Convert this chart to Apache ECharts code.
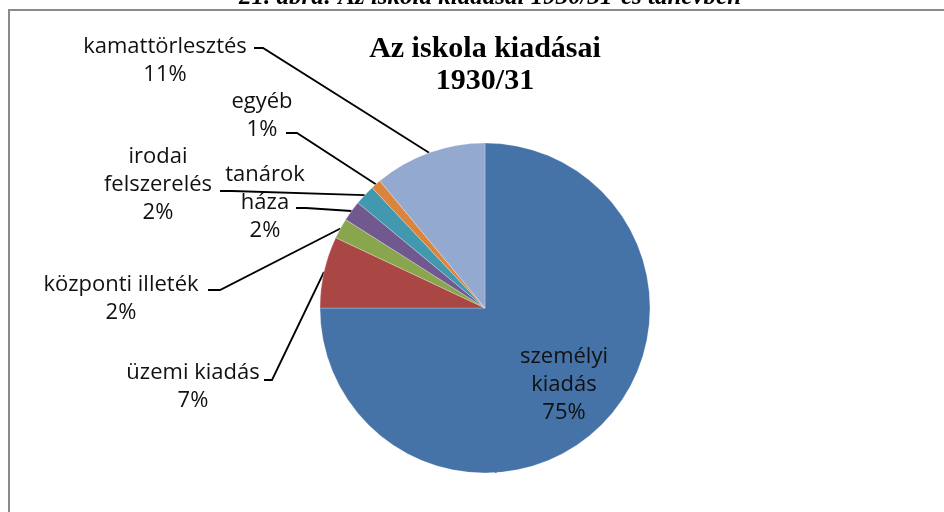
<!DOCTYPE html>
<html>
<head>
<meta charset="utf-8">
<script src="https://cdn.jsdelivr.net/npm/echarts@6/dist/echarts.min.js"></script>
<style>
  html, body { margin: 0; padding: 0; background: #fff; }
  #chart { width: 944px; height: 512px; }
</style>
</head>
<body>
<div id="chart"></div>
<script>
// adatok a képről
const categories = ['személyi\nkiadás', 'üzemi kiadás', 'központi illeték', 'tanárok\nháza', 'irodai\nfelszerelés', 'egyéb', 'kamattörlesztés'];
const shares = [75, 7, 2, 2, 2, 1, 11];
const colors = ['#4572A7', '#AA4643', '#89A54E', '#71588F', '#4198AF', '#DB843D', '#93A9CF'];

// címkék helye (szöveg közepe) és a vezetővonal törése
const labelPos = [[564, 385], [193, 387], [121, 299], [265, 203], [158, 185], [262, 116], [165, 61]];
const lineEnds = [null, [[272, 380], [264, 380]], [[220, 290], [208, 290]], [[306, 208], [296, 208]],
  [[232, 191], [220, 191]], [[297, 133], [286, 133]], [[263, 48], [254, 48]]];

const chart = echarts.init(document.getElementById('chart'));

const option = {
  animation: false,
  title: {
    text: 'Az iskola kiadásai\n1930/31',
    left: 480,
    top: 28,
    textAlign: 'center',
    textStyle: {
      fontFamily: 'Liberation Serif',
      fontWeight: 'bold',
      fontSize: 30,
      lineHeight: 32,
      color: '#000'
    }
  },
  graphic: [
    { // képaláírás, felül levágva
      type: 'text',
      x: 490,
      y: -15,
      style: {
        text: '21. ábra: Az iskola kiadásai 1930/31-es tanévben',
        fontFamily: 'Liberation Serif',
        fontStyle: 'italic',
        fontWeight: 'bold',
        fontSize: 25,
        fill: '#000',
        align: 'center',
        verticalAlign: 'top'
      }
    },
    { // keret
      type: 'polyline',
      shape: { points: [[9, 512], [9, 10], [944, 10]] },
      style: { stroke: '#8a8a8a', lineWidth: 2, fill: null }
    }
  ],
  series: [{
    type: 'pie',
    center: [485, 308],
    radius: 165,
    startAngle: 90,
    clockwise: true,
    avoidLabelOverlap: false,
    data: categories.map((name, i) => ({
      name: name,
      value: shares[i],
      itemStyle: { color: colors[i] },
      label: i === 0 ? { position: 'inside' } : {}
    })),
    itemStyle: { borderColor: 'rgba(255,255,255,0.5)', borderWidth: 0.5 },
    label: {
      formatter: '{b}\n{c}%',
      fontFamily: 'Open Sans',
      fontSize: 22,
      lineHeight: 28,
      color: '#111'
    },
    labelLine: {
      show: true,
      lineStyle: { color: '#000', width: 1.8 }
    },
    labelLayout: function (params) {
      const i = params.dataIndex;
      const res = {
        x: labelPos[i][0],
        y: labelPos[i][1],
        align: 'center',
        verticalAlign: 'middle'
      };
      if (lineEnds[i] && params.labelLinePoints) {
        res.labelLinePoints = [params.labelLinePoints[0], lineEnds[i][0], lineEnds[i][1]];
      }
      return res;
    }
  }]
};

chart.setOption(option);
window.addEventListener('resize', function () {
  chart.resize();
});
</script>
</body>
</html>
